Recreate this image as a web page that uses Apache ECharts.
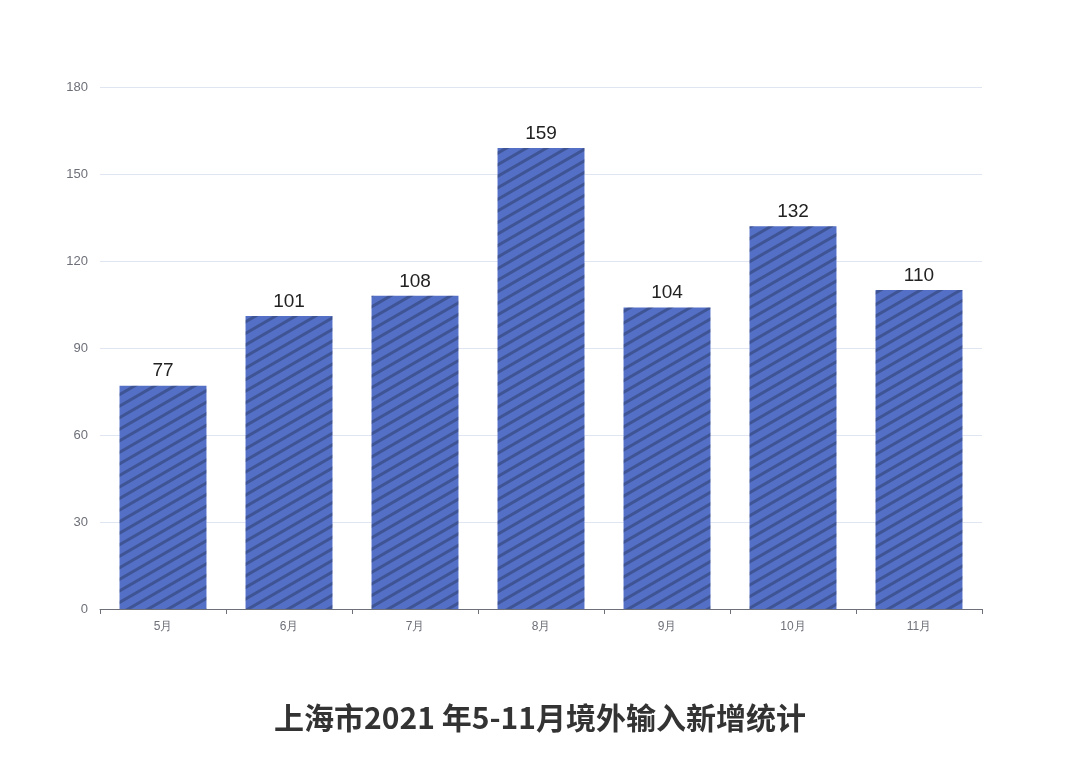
<!DOCTYPE html><html><head><meta charset="utf-8"><script src="https://cdn.jsdelivr.net/npm/echarts@6/dist/echarts.min.js"></script></head><body style="margin:0"><div id="c" style="width:1080px;height:780px"></div><script>
const categories=['5月','6月','7月','8月','9月','10月','11月'];
const values=[77,101,108,159,104,132,110];
const chart=echarts.init(document.getElementById('c'));
chart.setOption({
title:{text:'上海市2021 年5-11月境外输入新增统计',bottom:42,left:'center',textStyle:{fontSize:30,fontWeight:'bold',color:'#333',fontFamily:'Noto Sans CJK SC'}},
grid:{left:100,right:98,top:87,bottom:171},
xAxis:{type:'category',data:categories,axisTick:{show:true},axisLine:{lineStyle:{color:'#6E7079'}},axisLabel:{color:'#6E7079',fontSize:12,margin:12}},
yAxis:{type:'value',min:0,max:180,interval:30,axisLabel:{color:'#6E7079',fontSize:13,margin:12},splitLine:{lineStyle:{color:'#E0E6F1'}}},
series:[{type:'bar',data:values,barWidth:'69%',itemStyle:{color:'#5470c6',decal:{symbol:'rect',color:'rgba(0,0,0,0.25)',dashArrayX:[1,0],dashArrayY:[3,7],rotation:-Math.PI/6}},label:{show:true,position:'top',fontSize:19,color:'#222'}}]
});
</script></body></html>
